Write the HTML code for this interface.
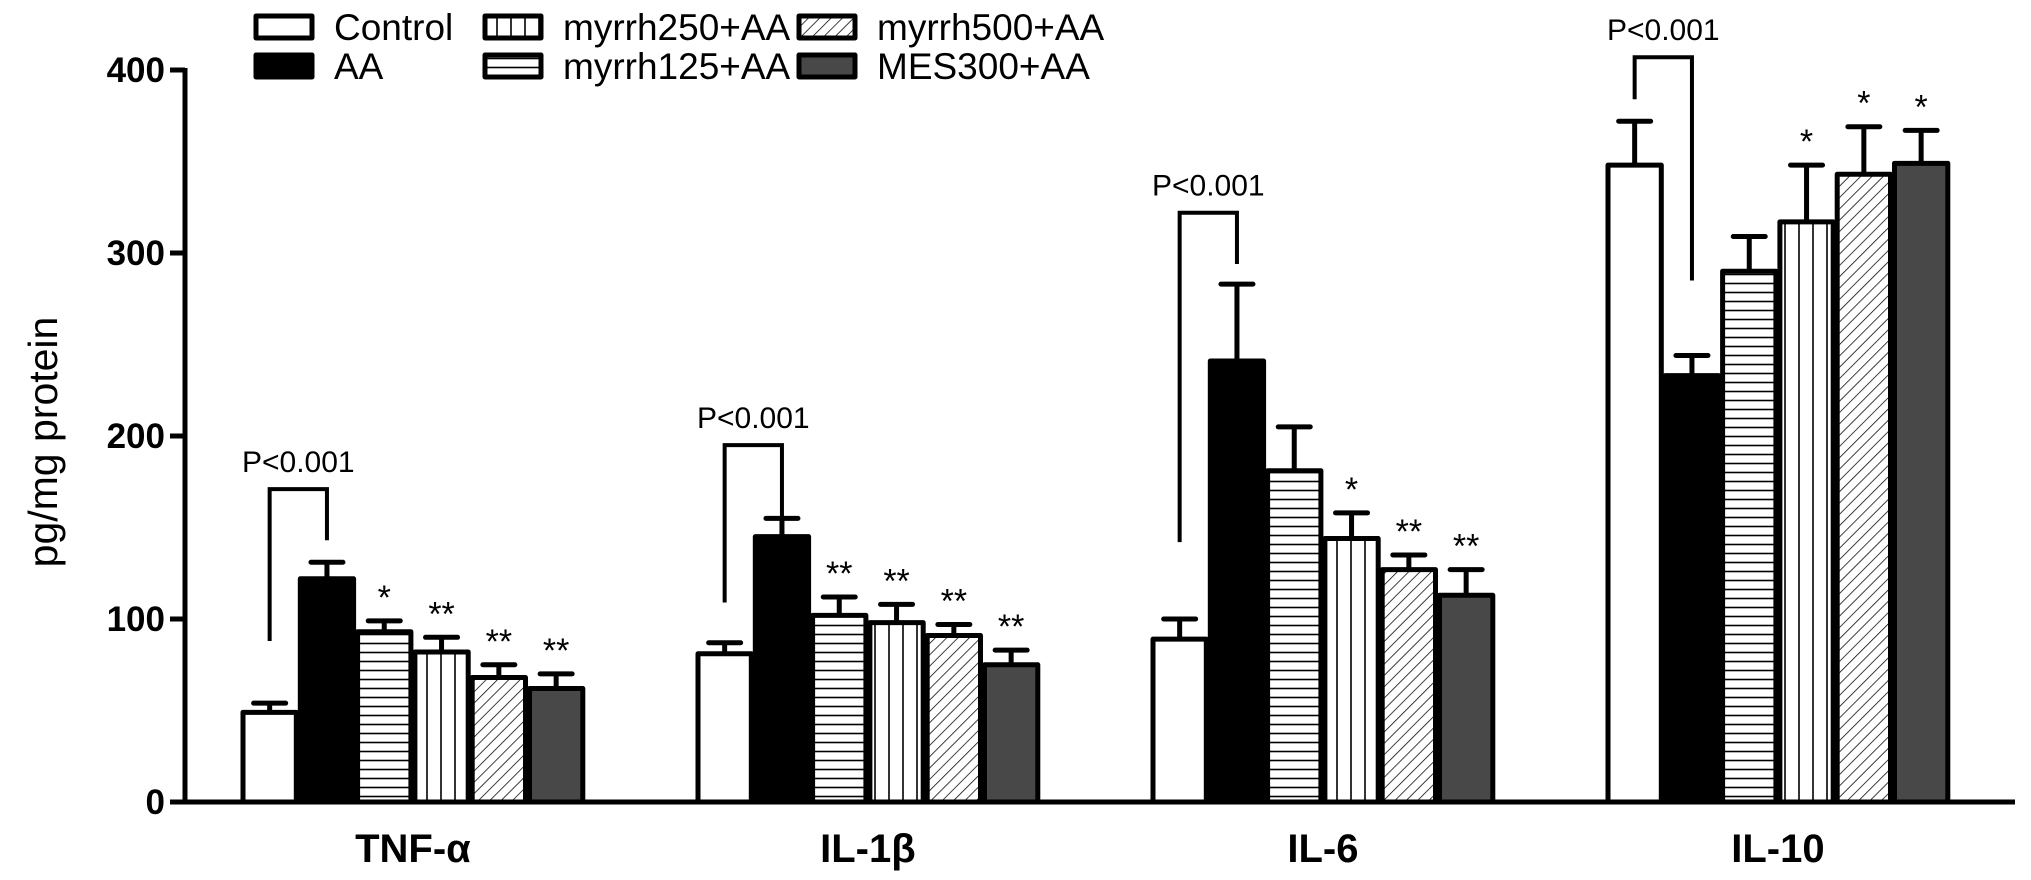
<!DOCTYPE html>
<html><head><meta charset="utf-8"><style>
html,body{margin:0;padding:0;background:#fff;width:2031px;height:880px;overflow:hidden}
svg{display:block}
text{font-family:"Liberation Sans",Arial,sans-serif}
</style></head><body>
<svg id="chart" width="2031" height="880" viewBox="0 0 2031 880" xmlns="http://www.w3.org/2000/svg">
<defs>
<pattern id="pH" patternUnits="userSpaceOnUse" width="10" height="9"><rect width="10" height="9" fill="#fff"/><line x1="0" y1="4.5" x2="10" y2="4.5" stroke="#000" stroke-width="1.6"/></pattern>
<pattern id="pV" patternUnits="userSpaceOnUse" width="14" height="10"><rect width="14" height="10" fill="#fff"/><line x1="7" y1="0" x2="7" y2="10" stroke="#000" stroke-width="1.6"/></pattern>
<pattern id="pD" patternUnits="userSpaceOnUse" width="8" height="8" patternTransform="rotate(45)"><rect width="8" height="8" fill="#fff"/><line x1="0" y1="0" x2="0" y2="8" stroke="#000" stroke-width="1.5"/></pattern>
</defs>
<g id="plot"></g>
</svg>
<script>
const categories = ["TNF-α","IL-1β","IL-6","IL-10"];
const seriesNames = ["Control","AA","myrrh125+AA","myrrh250+AA","myrrh500+AA","MES300+AA"];
const controlVals = [49,81,89,348];
const aaVals = [122,145,241,233];
const m125Vals = [93,102,181,290];
const m250Vals = [82,98,144,317];
const m500Vals = [68,91,127,343];
const mesVals = [62,75,113,349];
const controlErr = [54,87,100,372];
const aaErr = [131,155,283,244];
const m125Err = [99,112,205,309];
const m250Err = [90,108,158,348];
const m500Err = [75,97,135,369];
const mesErr = [70,83,127,367];
const sigM125 = ["*","**","",""];
const sigM250 = ["**","**","*","*"];
const sigM500 = ["**","**","**","*"];
const sigMes = ["**","**","**","*"];
const bracketTop = [171,195,322,407];
const bracketLeftEnd = [88,109,142,384];
const bracketRightEnd = [143,150,294,285];
const yTicks = [0,100,200,300,400];

const NS="http://www.w3.org/2000/svg";
const g=document.getElementById('plot');
const y0=802, yTop=70, yMax=400;
function yS(v){return y0-(v/yMax)*(y0-yTop);}
const groupStart=241, groupStep=455, barW=57.3;
function xS(ci,si){return groupStart+ci*groupStep+si*barW;}
function mk(tag,attrs,parent){const e=document.createElementNS(NS,tag);for(const k in attrs)e.setAttribute(k,attrs[k]);(parent||g).appendChild(e);return e;}
const fills=["#fff","#000","url(#pH)","url(#pV)","url(#pD)","#484848"];
const vals=[controlVals,aaVals,m125Vals,m250Vals,m500Vals,mesVals];
const errs=[controlErr,aaErr,m125Err,m250Err,m500Err,mesErr];
const sigs=[null,null,sigM125,sigM250,sigM500,sigMes];

let ax=mk('line',{x1:185,y1:yTop-2,x2:185,y2:y0+2,stroke:'#000','stroke-width':5});


let xa=mk('line',{x1:183,y1:y0,x2:2015,y2:y0,stroke:'#000','stroke-width':5});


yTicks.forEach(t=>{
  const tk=mk('line',{x1:170,y1:yS(t),x2:185,y2:yS(t),stroke:'#000','stroke-width':5});
  
  
  const tl=mk('text',{x:165,y:yS(t)+12,'text-anchor':'end','font-size':35,'font-weight':'bold'});
  tl.textContent=t;
  
  
});
const yt=mk('text',{x:0,y:0,transform:'translate(57,442) rotate(-90)','text-anchor':'middle','font-size':41});
yt.textContent='pg/mg protein';



categories.forEach((c,ci)=>{
  for(let si=0;si<6;si++){
    const x=xS(ci,si), v=vals[si][ci], e=errs[si][ci], cx=x+barW/2;
    const el=mk('line',{x1:cx,y1:yS(v),x2:cx,y2:yS(e),stroke:'#000','stroke-width':5});
    
    
    const cap=mk('line',{x1:cx-16,y1:yS(e),x2:cx+16,y2:yS(e),stroke:'#000','stroke-width':5,'stroke-linecap':'round'});
    
    
    const r=mk('rect',{x:x+2,y:yS(v),width:barW-4,height:y0-yS(v),fill:fills[si],stroke:'#000','stroke-width':5,'stroke-linejoin':'round'});
    
    
    if(sigs[si]&&sigs[si][ci]){
      const s=mk('text',{x:cx,y:yS(e)-12,'text-anchor':'middle','font-size':34});
      s.textContent=sigs[si][ci];
      
      
    }
  }
  const lx=xS(ci,0)+barW/2, rx=xS(ci,1)+barW/2;
  const br=mk('polyline',{points:`${lx},${yS(bracketLeftEnd[ci])} ${lx},${yS(bracketTop[ci])} ${rx},${yS(bracketTop[ci])} ${rx},${yS(bracketRightEnd[ci])}`,fill:'none',stroke:'#000','stroke-width':4});
  
  
  const pt=mk('text',{x:(lx+rx)/2,y:yS(bracketTop[ci])-17,'text-anchor':'middle','font-size':30});
  pt.textContent='P<0.001';
  
  
  const xl=mk('text',{x:xS(ci,3),y:862,'text-anchor':'middle','font-size':40,'font-weight':'bold'});
  xl.textContent=c;
  
  
});

const legOrder=[[0,256,16],[1,256,55],[3,485,16],[2,485,55],[4,799,16],[5,799,55]];
legOrder.forEach(([si,lx,ly])=>{
  const b=mk('rect',{x:lx,y:ly,width:56,height:22,fill:fills[si],stroke:'#000','stroke-width':5,'stroke-linejoin':'round'});
  
  
  const t=mk('text',{x:lx+78,y:ly+24,'font-size':37});
  t.textContent=seriesNames[si];
  
  
});
</script>
</body></html>
